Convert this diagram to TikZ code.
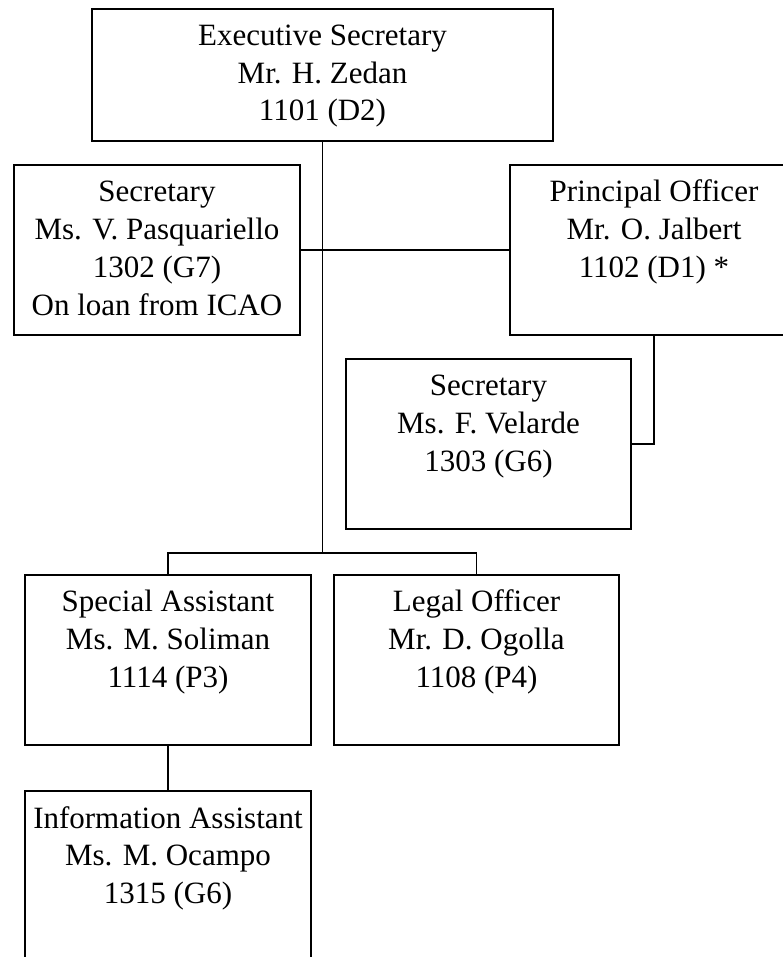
\documentclass[tikz,border=0pt]{standalone}
\usepackage{fontspec}
\setmainfont{Liberation Serif}
\begin{document}
\begin{tikzpicture}[x=1pt,y=-1pt,
  orgbox/.style={draw=black, line width=1.2pt, rectangle, inner sep=0pt, fill=white},
  orgtext/.style={anchor=north, inner sep=0pt, align=center, font=\fontsize{31}{37.7}\selectfont},
  link/.style={draw=black, line width=1.1pt},
  boldlink/.style={draw=black, line width=1.6pt}]
\useasboundingbox (0,0) rectangle (783,957);
\fill[white] (0,0) rectangle (783,957);
\clip (0,0) rectangle (783,957);

% boxes
\node[orgbox, minimum width=461pt, minimum height=132pt] (exec) at (322.5,75) {};
\node[orgbox, minimum width=286pt, minimum height=170pt] (sec) at (157,250) {};
\node[orgbox, minimum width=288pt, minimum height=170pt] (princ) at (654,250) {};
\node[orgbox, minimum width=285pt, minimum height=170pt] (vel) at (488.5,444) {};
\node[orgbox, minimum width=286pt, minimum height=170pt] (spec) at (168,660) {};
\node[orgbox, minimum width=285pt, minimum height=170pt] (legal) at (476.5,660) {};
\node[orgbox, minimum width=286pt, minimum height=170pt] (info) at (168,876) {};

% texts
\node[orgtext] (exec-t) at ([yshift=-10.5pt]exec.north) {\strut Executive Secretary\\Mr. H. Zedan\\1101 (D2)};
\node[orgtext] (sec-t) at ([yshift=-11pt]sec.north) {\strut Secretary\\Ms. V. Pasquariello\\1302 (G7)\\On loan from ICAO};
\node[orgtext] (princ-t) at ([yshift=-11pt]princ.north) {\strut Principal Officer\\Mr. O. Jalbert\\1102 (D1) *};
\node[orgtext] (vel-t) at ([yshift=-11pt]vel.north) {\strut Secretary\\Ms. F. Velarde\\1303 (G6)};
\node[orgtext] (spec-t) at ([yshift=-11pt]spec.north) {\strut Special Assistant\\Ms. M. Soliman\\1114 (P3)};
\node[orgtext] (legal-t) at ([yshift=-11pt]legal.north) {\strut Legal Officer\\Mr. D. Ogolla\\1108 (P4)};
\node[orgtext] (info-t) at ([yshift=-11pt]info.north) {\strut Information Assistant\\Ms. M. Ocampo\\1315 (G6)};

% connectors
\coordinate (junc) at (322.5,553);
\draw[link] (exec.south) -- (junc);
\draw[link] (sec.east) -- (princ.west);
\draw[boldlink] (princ.south) |- (vel.east);
\draw[link] (spec.north) |- (junc) -| (legal.north);
\draw[link] (spec.south) -- (info.north);
\end{tikzpicture}
\end{document}
